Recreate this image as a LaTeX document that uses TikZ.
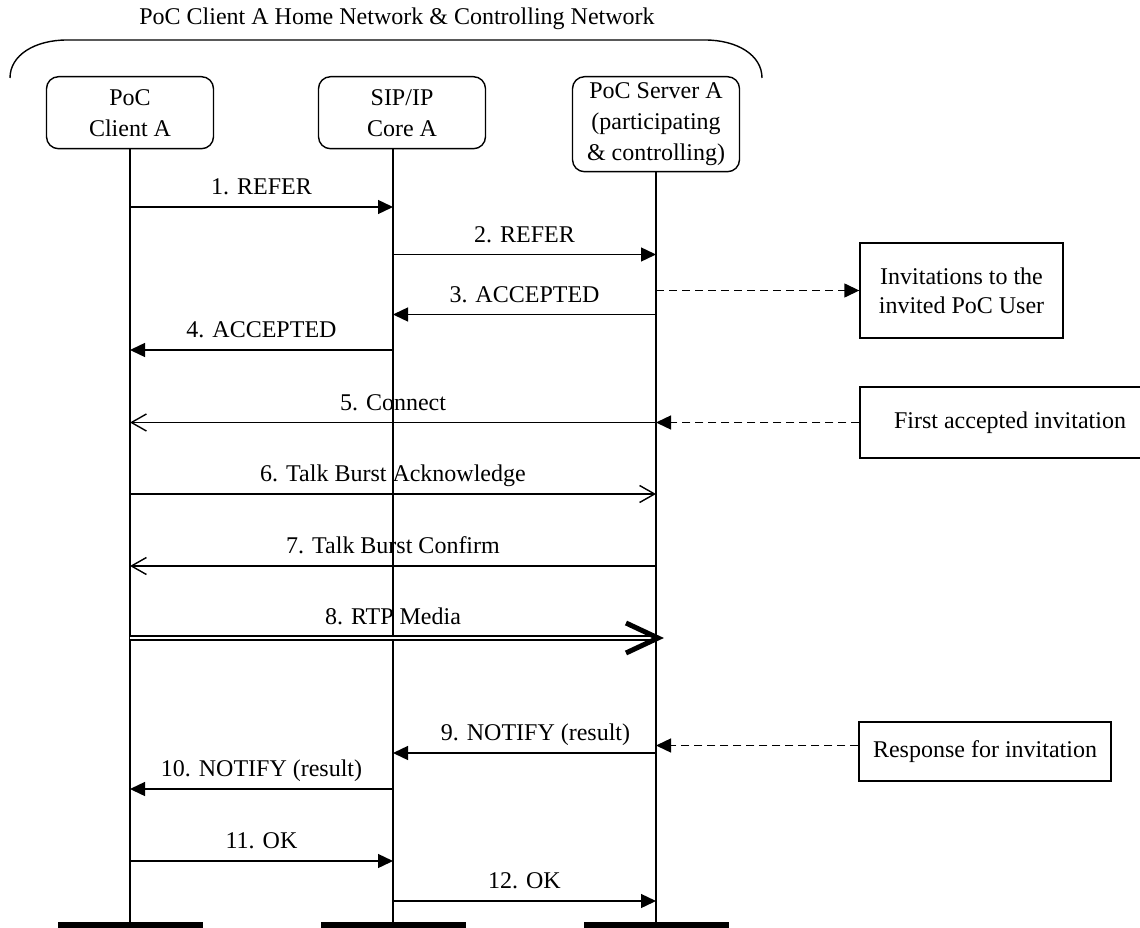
\documentclass[tikz,border=0pt]{standalone}
\usepackage{fontspec}
\setmainfont{Liberation Serif}
\usetikzlibrary{arrows.meta}

\begin{document}
\begin{tikzpicture}[x=1pt,y=-1pt,
  font=\fontsize{24}{31}\selectfont,
  entity/.style={draw,rounded corners=12pt,line width=1.4pt,minimum width=167pt,
    align=center,inner sep=0pt,anchor=north},
  note/.style={draw,line width=1.4pt,align=center,inner sep=0pt},
  bar/.style={fill,minimum width=145pt,minimum height=8pt,inner sep=0pt},
  life/.style={line width=1.6pt},
  msg/.style={line width=1.4pt,-{Triangle[length=15pt,width=14pt]}},
  open msg/.style={line width=1.4pt,-{Straight Barb[length=15pt,width=17pt]}},
  hint/.style={msg,dash pattern=on 8pt off 5pt},
  lbl/.style={anchor=base,yshift=12.5pt,inner sep=0pt}]
  \useasboundingbox (0,0) rectangle (1140,928);

  \node (title) at (397,19) {PoC Client A Home Network \& Controlling Network};
  \draw[line width=1.4pt] (10,78) .. controls (10,55) and (35,40) .. (67,40) -- (705,40)
    .. controls (737,40) and (762,55) .. (762,78);

  \node[entity,minimum height=72pt] (a) at (130,76) {PoC\\Client A};
  \node[entity,minimum height=72pt] (core) at (402,76) {SIP/IP\\Core A};
  \node[entity,minimum height=95pt] (srv) at (656,76) {PoC Server A\\(participating\\\& controlling)};

  \node[bar] (abar) at (130,926) {};
  \node[bar] (corebar) at (393,926) {};
  \node[bar] (srvbar) at (656,926) {};

  \draw[life] (a) -- (abar);
  \draw[life] (core.south -| corebar) -- (corebar);
  \draw[life] (srv) -- (srvbar);

  \node[note,minimum width=203pt,minimum height=95pt,font=\fontsize{24}{29}\selectfont] (inv) at (961.5,290.5) {Invitations to the\\invited PoC User};
  \node[note,minimum width=300pt,minimum height=71pt] (first) at (1010,422.5) {First accepted invitation};
  \node[note,minimum width=252pt,minimum height=59pt] (resp) at (985,751.5) {Response for invitation};

  % messages
  \foreach \y/\p/\q/\s/\dx/\t in {207/abar/corebar/msg/0/1. REFER,
      254.5/corebar/srvbar/msg/0/2. REFER,
      314.5/srvbar/corebar/msg/0/3. ACCEPTED,
      350/corebar/abar/msg/0/4. ACCEPTED,
      422.5/srvbar/abar/open msg/0/5. Connect,
      494/abar/srvbar/open msg/0/6. Talk Burst Acknowledge,
      566/srvbar/abar/open msg/0/7. Talk Burst Confirm,
      753/srvbar/corebar/msg/11/9. NOTIFY (result),
      789/corebar/abar/msg/0/10. NOTIFY (result),
      861/abar/corebar/msg/0/11. OK,
      901/corebar/srvbar/msg/0/12. OK}
    \draw[\s] (\p |- 0,\y) -- (\q |- 0,\y) node[midway,lbl,xshift=\dx pt] {\t};

  % media
  \coordinate (rtp) at (abar |- 0,638);
  \coordinate (rtp end) at (srvbar |- 0,638);
  \draw[double,double distance=2.8pt,line width=1.5pt] (rtp) -- (rtp end)
    node[midway,lbl,yshift=1pt] {8. RTP Media};
  \draw[line width=5pt,line join=miter] ([xshift=-30pt,yshift=15pt]rtp end) -- ([xshift=2pt]rtp end)
    -- ([xshift=-30pt,yshift=-15pt]rtp end);

  \coordinate (resp in) at ([yshift=6pt]resp.west);
  \draw[hint] (srv |- inv) -- (inv.west);
  \draw[hint] (first.west) -- (srvbar |- first);
  \draw[hint] (resp in) -- (srvbar |- resp in);
\end{tikzpicture}
\end{document}
